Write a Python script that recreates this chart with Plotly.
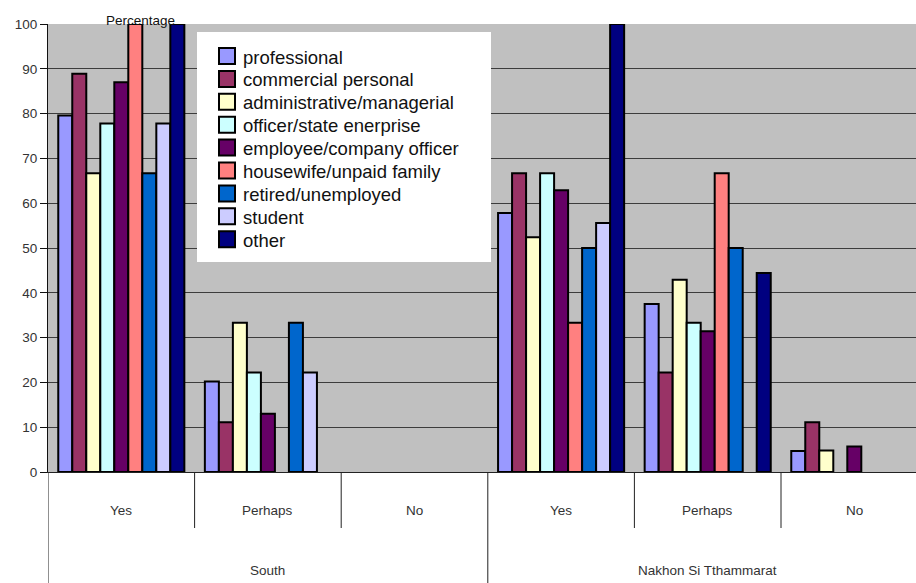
import plotly.graph_objects as go

# Response groups along the x axis (region, answer)
regions = ["South", "Nakhon Si Tthammarat"]
answers = ["Yes", "Perhaps", "No"]

# Occupation series and their fill colours
occupations = [
    "professional",
    "commercial personal",
    "administrative/managerial",
    "officer/state enerprise",
    "employee/company officer",
    "housewife/unpaid family",
    "retired/unemployed",
    "student",
    "other",
]
colors = ["#9999FF", "#993366", "#FFFFCC", "#CCFFFF", "#660066",
          "#FF8080", "#0066CC", "#CCCCFF", "#000080"]

# Percentages per group: South Yes, Perhaps, No, Nakhon Yes, Perhaps, No
professional = [79.6, 20.2, None, 57.8, 37.5, 4.7]
commercial = [88.9, 11.1, None, 66.7, 22.2, 11.1]
administrative = [66.7, 33.3, None, 52.4, 42.9, 4.8]
officer = [77.8, 22.2, None, 66.7, 33.3, None]
employee = [87.0, 13.0, None, 62.9, 31.4, 5.7]
housewife = [100.0, None, None, 33.3, 66.7, None]
retired = [66.7, 33.3, None, 50.0, 50.0, None]
student = [77.8, 22.2, None, 55.6, None, None]
other = [100.0, None, None, 100.0, 44.4, None]

series = [professional, commercial, administrative, officer, employee,
          housewife, retired, student, other]

group_pos = list(range(len(regions) * len(answers)))

fig = go.Figure()
for name, color, vals in zip(occupations, colors, series):
    fig.add_trace(go.Bar(
        x=group_pos, y=vals, name=name, showlegend=False,
        marker=dict(color=color, line=dict(color="black", width=2)),
    ))

W, H = 916, 583
ml, mr, mt, mb = 48, 0, 24, 111
plot_w = W - ml - mr
plot_h = H - mt - mb
group_px = 146.6


def py(pix):
    """pixel row -> paper y"""
    return (H - mb - pix) / plot_h


def px(pix):
    """pixel column -> paper x"""
    return (pix - ml) / plot_w


shapes = []
annotations = []
font_family = "Liberation Sans, Arial, sans-serif"

# legend panel with a swatch and label per occupation
shapes.append(dict(type="rect", xref="paper", yref="paper",
                   x0=px(197), x1=px(491), y0=py(262), y1=py(32),
                   fillcolor="white", line=dict(width=0), layer="above"))
row0, row_step = 56, 22.9
for i, (name, color) in enumerate(zip(occupations, colors)):
    cy = row0 + i * row_step
    shapes.append(dict(type="rect", xref="paper", yref="paper",
                       x0=px(219), x1=px(235), y0=py(cy + 8), y1=py(cy - 8),
                       fillcolor=color, line=dict(color="black", width=2),
                       layer="above"))
    annotations.append(dict(text=name, x=px(241), xref="paper", y=py(cy + 1),
                            yref="paper", showarrow=False, xanchor="left",
                            yanchor="middle",
                            font=dict(family=font_family, size=18.5, color="#111111")))

# category dividers below the axis
n_groups = len(group_pos)
for i in range(n_groups + 1):
    xb = i - 0.5
    long_line = (i % len(answers) == 0)
    shapes.append(dict(type="line", xref="x", yref="paper",
                       x0=xb, x1=xb, y0=0, y1=py(600 if long_line else 528),
                       line=dict(color="#222222", width=1)))

label_font = dict(family=font_family, size=13.5, color="#333333")
for r_i, region in enumerate(regions):
    for a_i, ans in enumerate(answers):
        annotations.append(dict(text=ans, x=r_i * len(answers) + a_i, xref="x",
                                y=py(510), yref="paper", showarrow=False,
                                font=label_font, xanchor="center", yanchor="middle"))
    annotations.append(dict(text=region, x=r_i * len(answers) + 1, xref="x",
                            y=py(570), yref="paper", showarrow=False,
                            font=label_font, xanchor="center", yanchor="middle"))
annotations.append(dict(text="Percentage", x=px(140), xref="paper", y=py(20), yref="paper",
                        showarrow=False, xanchor="center", yanchor="middle",
                        font=dict(family=font_family, size=13.5, color="#111111")))

fig.update_layout(
    width=W, height=H,
    margin=dict(l=ml, r=mr, t=mt, b=mb, pad=0),
    paper_bgcolor="white",
    plot_bgcolor="#C0C0C0",
    barmode="group",
    bargap=0.14,
    bargroupgap=0,
    font=dict(family=font_family, color="#333333"),
    shapes=shapes,
    annotations=annotations,
    showlegend=False,
)
fig.update_xaxes(
    range=[-0.5, -0.5 + plot_w / group_px],
    showticklabels=False, showgrid=False, zeroline=False,
    showline=True, linecolor="#222222", linewidth=1, ticks="",
)
fig.update_yaxes(
    range=[0, 100], dtick=10, tick0=0,
    showgrid=True, gridcolor="#3c3c3c", gridwidth=1,
    zeroline=False,
    showline=True, linecolor="#111111", linewidth=1,
    ticks="outside", ticklen=7, tickcolor="#111111",
    tickfont=dict(family=font_family, size=13.5, color="#333333"),
)

fig.write_html("out.html")
